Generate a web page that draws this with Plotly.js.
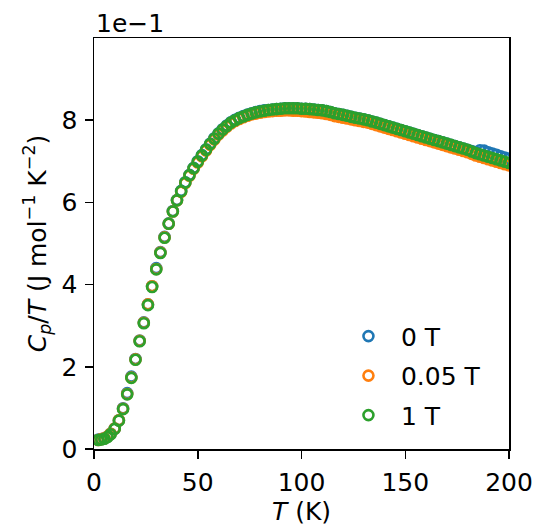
<!DOCTYPE html>
<html>
<head>
<meta charset="utf-8">
<script src="https://cdn.plot.ly/plotly-3.0.1.min.js"></script>
<style>html,body{margin:0;padding:0;background:#fff;}#chart{width:537px;height:531px;}</style>
</head>
<body>
<div id="chart"></div>
<script>
// Temperature (K)
const temperature = [2,3.5,5,6.5,8,10,12,14,16,18,20,22,24,26,28,30,32,34,36,38,40,42,44,46,48,50,52,54,56,58,60,62,64,66,68,70,72,74,76,78,80,82,84,86,88,90,92,94,96,98,100,102,104,106,108,110,112,114,116,118,120,122,124,126,128,130,132,134,136,138,140,142,144,146,148,150,152,154,156,158,160,162,164,166,168,170,172,174,176,178,180,182,184,186,188,190,192,194,196,198,200];

// Cp/T (J mol^-1 K^-2) for each field
const cp0T = [0.023,0.024,0.026,0.030,0.037,0.050,0.070,0.099,0.136,0.176,0.219,0.264,0.308,0.352,0.396,0.440,0.479,0.516,0.549,0.579,0.606,0.628,0.649,0.667,0.684,0.700,0.715,0.729,0.743,0.756,0.768,0.778,0.787,0.795,0.801,0.806,0.810,0.814,0.817,0.820,0.822,0.824,0.825,0.826,0.827,0.828,0.829,0.829,0.829,0.829,0.828,0.828,0.827,0.826,0.825,0.824,0.822,0.820,0.817,0.815,0.813,0.811,0.808,0.806,0.804,0.802,0.800,0.797,0.794,0.791,0.788,0.785,0.782,0.779,0.776,0.773,0.770,0.767,0.764,0.761,0.758,0.755,0.752,0.749,0.746,0.743,0.740,0.737,0.734,0.731,0.728,0.725,0.722,0.727,0.726,0.722,0.719,0.716,0.712,0.709,0.706];
const cp005T = [0.022,0.024,0.026,0.030,0.037,0.050,0.070,0.098,0.134,0.174,0.218,0.263,0.307,0.352,0.396,0.438,0.478,0.515,0.548,0.578,0.605,0.626,0.647,0.665,0.682,0.697,0.712,0.726,0.740,0.753,0.765,0.775,0.784,0.792,0.798,0.803,0.807,0.811,0.814,0.816,0.818,0.820,0.821,0.822,0.823,0.823,0.824,0.824,0.823,0.823,0.822,0.821,0.820,0.819,0.818,0.817,0.815,0.813,0.810,0.808,0.806,0.804,0.802,0.800,0.798,0.796,0.794,0.791,0.788,0.785,0.782,0.779,0.776,0.773,0.770,0.767,0.764,0.761,0.758,0.755,0.752,0.749,0.746,0.743,0.740,0.737,0.734,0.731,0.728,0.725,0.722,0.718,0.714,0.711,0.708,0.705,0.702,0.699,0.696,0.693,0.690];
const cp1T = [0.022,0.023,0.025,0.029,0.036,0.049,0.069,0.097,0.133,0.173,0.217,0.262,0.306,0.350,0.394,0.437,0.477,0.514,0.548,0.578,0.605,0.627,0.648,0.666,0.683,0.699,0.714,0.728,0.742,0.755,0.767,0.777,0.786,0.794,0.800,0.805,0.809,0.813,0.816,0.819,0.821,0.823,0.825,0.826,0.827,0.828,0.829,0.829,0.829,0.829,0.828,0.828,0.827,0.826,0.825,0.824,0.822,0.820,0.817,0.815,0.813,0.811,0.808,0.806,0.804,0.802,0.800,0.797,0.794,0.791,0.788,0.785,0.782,0.779,0.776,0.773,0.770,0.767,0.764,0.761,0.758,0.755,0.752,0.749,0.746,0.743,0.740,0.737,0.734,0.731,0.728,0.724,0.720,0.717,0.714,0.711,0.708,0.705,0.702,0.699,0.696];

const seriesNames = ['0 T', '0.05 T', '1 T'];
const seriesColors = ['#1f77b4', '#ff7f0e', '#2ca02c'];
const seriesValues = [cp0T, cp005T, cp1T];

const xTicks = [0, 50, 100, 150, 200];
const yTickVals = [0, 0.2, 0.4, 0.6, 0.8];
const yTickText = ['0', '2', '4', '6', '8'];

const FONT = 'DejaVu Sans, sans-serif';
const FS = 25;

const traces = seriesValues.map((ys, i) => ({
  type: 'scatter',
  mode: 'markers',
  name: seriesNames[i],
  legendgroup: 'g' + i,
  x: temperature,
  y: ys,
  marker: {symbol: 'circle-open', size: 10, color: seriesColors[i], line: {width: 2.6, color: seriesColors[i]}},
  cliponaxis: true
}));

const axisCommon = {
  showgrid: false,
  zeroline: false,
  showline: true,
  linecolor: '#000',
  linewidth: 1.5,
  mirror: true,
  ticks: 'outside',
  ticklen: 8,
  tickwidth: 1.5,
  tickcolor: '#000',
  tickfont: {family: FONT, size: FS, color: '#000'}
};

const layout = {
  width: 537,
  height: 531,
  margin: {l: 94, r: 28, t: 38, b: 82},
  paper_bgcolor: '#fff',
  plot_bgcolor: '#fff',
  font: {family: FONT, size: FS, color: '#000'},
  showlegend: true,
  legend: {
    x: 0.583, y: 0.33, xanchor: 'left', yanchor: 'top',
    bgcolor: 'rgba(0,0,0,0)', borderwidth: 0,
    font: {family: FONT, size: FS, color: '#000'},
    tracegroupgap: 4,
    itemwidth: 55
  },
  xaxis: Object.assign({}, axisCommon, {
    range: [0, 200],
    tickmode: 'array',
    tickvals: xTicks,
    ticktext: xTicks.map(String),
    ticklabelstandoff: 2,
    title: {text: '<i>T</i> (K)', font: {family: FONT, size: FS, color: '#000'}, standoff: 6}
  }),
  yaxis: Object.assign({}, axisCommon, {
    range: [0, 1.0],
    tickmode: 'array',
    tickvals: yTickVals,
    ticktext: yTickText,
    ticklabelstandoff: 2,
    title: {text: '<i>C</i><sub><i>p</i></sub>/<i>T</i> (J mol<sup>−1</sup> K<sup>−2</sup>)', font: {family: FONT, size: FS, color: '#000'}, standoff: 8}
  }),
  annotations: [{
    text: '1e−1',
    xref: 'paper', yref: 'paper', x: 0, y: 1,
    xanchor: 'left', yanchor: 'bottom',
    showarrow: false,
    font: {family: FONT, size: FS, color: '#000'},
    yshift: -2
  }]
};

Plotly.newPlot('chart', traces, layout, {displayModeBar: false, staticPlot: true});
</script>
</body>
</html>
